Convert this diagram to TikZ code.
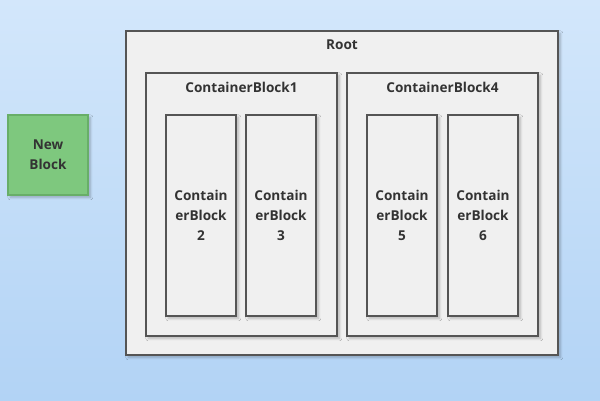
\documentclass[tikz,border=0pt]{standalone}
\usepackage{fontspec}
\setmainfont{Open Sans}
\usetikzlibrary{positioning,shadows,shadows.blur}

\definecolor{bgtop}{HTML}{D3E7FB}
\definecolor{bgbot}{HTML}{B2D3F5}
\definecolor{edge}{HTML}{555555}
\definecolor{boxfill}{HTML}{F0F0F0}
\definecolor{newfill}{HTML}{7EC87E}
\definecolor{newedge}{HTML}{68AE68}
\definecolor{txt}{HTML}{333333}

\begin{document}
\begin{tikzpicture}[x=0.03cm,y=-0.03cm,
    block/.style={draw=edge,line width=1.6pt,fill=boxfill,inner sep=0pt,
      blur shadow={shadow blur steps=6,shadow xshift=2pt,shadow yshift=-2pt,shadow opacity=25}},
    title/.style={font=\bfseries\fontsize{11.6}{17}\selectfont,text=txt,align=center}]
      \shade[top color=bgtop,bottom color=bgbot] (0,0) rectangle (600,400);

      % outer frame
      \node[block,minimum width=12.96cm,minimum height=9.72cm] (root) at (342,193) {};
      \node[title] (roottitle) at (342,45) {Root};

      % two containers
      \node[block,minimum width=5.73cm,minimum height=7.89cm] (cb1) at (241.5,204.5) {};
      \node[block,minimum width=5.73cm,minimum height=7.89cm] (cb4) at (442.5,204.5) {};
      \node[title] (cb1title) at (241.5,87) {ContainerBlock1};
      \node[title] (cb4title) at (442.5,87) {ContainerBlock4};

      % inner blocks
      \node[block,title,minimum width=2.1cm,minimum height=6.03cm] (cb2) at (201,215.5) {Contain\\erBlock\\2};
      \node[block,title,minimum width=2.1cm,minimum height=6.03cm] (cb3) at (281,215.5) {Contain\\erBlock\\3};
      \node[block,title,minimum width=2.1cm,minimum height=6.03cm] (cb5) at (402,215.5) {Contain\\erBlock\\5};
      \node[block,title,minimum width=2.1cm,minimum height=6.03cm] (cb6) at (483,215.5) {Contain\\erBlock\\6};

      \node[block,title,draw=newedge,fill=newfill,minimum width=2.4cm,minimum height=2.4cm] (newblock) at (48,155) {New\\Block};
\end{tikzpicture}
\end{document}
